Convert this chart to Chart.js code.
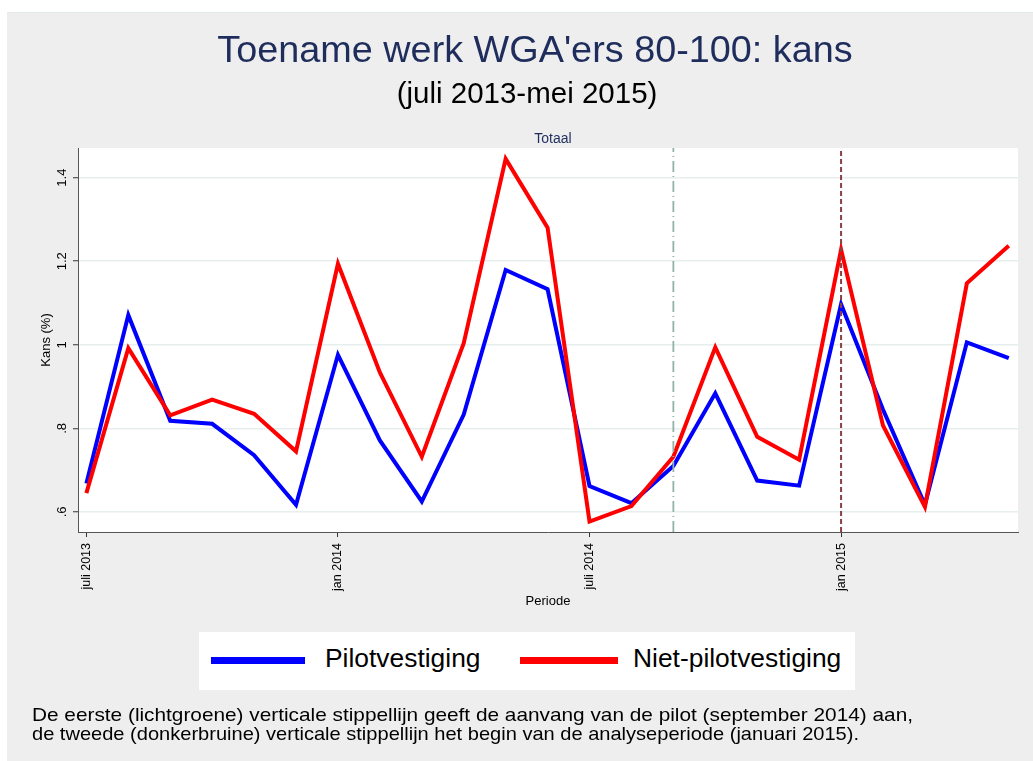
<!DOCTYPE html>
<html>
<head>
<meta charset="utf-8">
<script src="https://cdn.jsdelivr.net/npm/chart.js@4.4.1/dist/chart.umd.min.js"></script>
<style>
  body { margin: 0; background: #fff; font-family: Arial, "Liberation Sans", sans-serif; }
  #page { position: relative; width: 1033px; height: 761px; overflow: hidden; }
  #panel { position: absolute; left: 7px; top: 12px; width: 1026px; height: 749px; background: #eeeeee; border-top: 1px solid #e3eaec; }
  #chart { position: absolute; left: 0; top: 0; }
  .txt { position: absolute; white-space: nowrap; line-height: 1; }
  .center { transform: translateX(-50%); }
  .note { transform-origin: 0 0; }
  #legend { position: absolute; left: 199px; top: 632px; width: 656px; height: 58px; background: #fff; }
  .swatch { position: absolute; height: 7px; top: 25px; }
  .lab { position: absolute; top: 13px; font-size: 26.4px; line-height: 1; color: #000; white-space: nowrap; }
</style>
</head>
<body>
<div id="page">
  <div id="panel"></div>
  <canvas id="chart" width="1033" height="761"></canvas>
  <div class="txt center" style="left:535px; top:31px; font-size:37.8px; color:#1f2d5c;">Toename werk WGA'ers 80-100: kans</div>
  <div class="txt center" style="left:527px; top:78px; font-size:29.5px; color:#000;">(juli 2013-mei 2015)</div>
  <div class="txt center" style="left:553px; top:131px; font-size:14px; color:#1f2d5c;">Totaal</div>
  <div id="legend"></div>
  <div class="txt note" data-w="881" style="left:32px; top:706px; font-size:18.5px; color:#000;">De eerste (lichtgroene) verticale stippellijn geeft de aanvang van de pilot (september 2014) aan,</div>
  <div class="txt note" data-w="827" style="left:32px; top:725px; font-size:18.5px; color:#000;">de tweede (donkerbruine) verticale stippellijn het begin van de analyseperiode (januari 2015).</div>
</div>
<script>
// maanden juli 2013 - mei 2015
const months = ['juli 2013', 'aug 2013', 'sep 2013', 'okt 2013', 'nov 2013', 'dec 2013',
  'jan 2014', 'feb 2014', 'mrt 2014', 'apr 2014', 'mei 2014', 'jun 2014',
  'juli 2014', 'aug 2014', 'sep 2014', 'okt 2014', 'nov 2014', 'dec 2014',
  'jan 2015', 'feb 2015', 'mrt 2015', 'apr 2015', 'mei 2015'];

const pilot = [0.668, 1.071, 0.818, 0.811, 0.736, 0.617, 0.976, 0.771, 0.625, 0.833, 1.179, 1.133,
  0.662, 0.621, 0.710, 0.884, 0.675, 0.663, 1.097, 0.845, 0.617, 1.006, 0.968];
const nietPilot = [0.645, 0.992, 0.831, 0.869, 0.835, 0.745, 1.194, 0.934, 0.732, 1.004, 1.445, 1.280,
  0.577, 0.614, 0.732, 0.994, 0.780, 0.725, 1.228, 0.807, 0.612, 1.147, 1.237];

const seriesNames = ['Pilotvestiging', 'Niet-pilotvestiging'];
const seriesColors = ['#0000ff', '#ff0000'];

const xTickPos = [0, 6, 12, 18];
const xTickLabels = ['juli 2013', 'jan 2014', 'juli 2014', 'jan 2015'];
const yTickVals = [0.6, 0.8, 1.0, 1.2, 1.4];
const yTickLabels = ['.6', '.8', '1', '1.2', '1.4'];

// verticale stippellijnen: start pilot (sep 2014) en analyseperiode (jan 2015)
const pilotStart = months.indexOf('sep 2014');
const analyseStart = months.indexOf('jan 2015');

const yMin = 0.552, yMax = 1.471;
const fam = 'Arial, "Liberation Sans", sans-serif';

const toPoints = arr => arr.map((v, i) => ({ x: i, y: v }));
const vline = x => [{ x: x, y: yMin }, { x: x, y: yMax }];

// voetnoot iets breder trekken, zoals in het origineel
document.querySelectorAll('.note').forEach(el => {
  const w = el.getBoundingClientRect().width;
  el.style.transform = 'scaleX(' + (parseFloat(el.dataset.w) / w) + ')';
});

// legenda
const legend = document.getElementById('legend');
const legPos = [[12, 94, 126], [321, 98, 434]];
seriesNames.forEach((name, i) => {
  const sw = document.createElement('div');
  sw.className = 'swatch';
  sw.style.left = legPos[i][0] + 'px';
  sw.style.width = legPos[i][1] + 'px';
  sw.style.background = seriesColors[i];
  legend.appendChild(sw);
  const lab = document.createElement('div');
  lab.className = 'lab';
  lab.style.left = legPos[i][2] + 'px';
  lab.textContent = name;
  legend.appendChild(lab);
});

const plotBg = {
  id: 'plotBg',
  beforeDraw(chart) {
    const { ctx, chartArea: a } = chart;
    ctx.save();
    ctx.fillStyle = '#ffffff';
    ctx.fillRect(a.left, a.top, a.right - a.left, a.bottom - a.top);
    ctx.restore();
  }
};

new Chart(document.getElementById('chart'), {
  type: 'line',
  data: {
    datasets: [
      { label: seriesNames[0], data: toPoints(pilot), borderColor: seriesColors[0], borderWidth: 4, order: 3 },
      { label: seriesNames[1], data: toPoints(nietPilot), borderColor: seriesColors[1], borderWidth: 4, order: 2 },
      { data: vline(pilotStart), borderColor: '#93b3a8', borderWidth: 1.8, borderDash: [11, 4, 1, 4], order: 1 },
      { data: vline(analyseStart), borderColor: '#8c3f42', borderWidth: 2, borderDash: [5, 3], order: 1 }
    ]
  },
  options: {
    responsive: false,
    animation: false,
    events: [],
    layout: { padding: { left: 30, right: 15, top: 148, bottom: 149 } },
    elements: { point: { radius: 0 }, line: { tension: 0, borderCapStyle: 'butt', borderJoinStyle: 'miter' } },
    plugins: { legend: { display: false }, tooltip: { enabled: false } },
    scales: {
      x: {
        type: 'linear',
        min: -0.2,
        max: 22.22,
        afterBuildTicks: s => { s.ticks = xTickPos.map(v => ({ value: v })); },
        afterFit: s => { s.height = 80; },
        grid: { drawOnChartArea: false, drawTicks: true, tickLength: 5, tickColor: '#333', tickWidth: 1 },
        border: { color: '#555', width: 1 },
        ticks: {
          minRotation: 90, maxRotation: 90, padding: 6, color: '#000',
          font: { family: fam, size: 12.5 },
          callback: (v, i) => xTickLabels[i]
        },
        title: { display: true, text: 'Periode', color: '#000', font: { family: fam, size: 13 }, padding: { top: 0, bottom: 3 } }
      },
      y: {
        min: yMin,
        max: yMax,
        afterBuildTicks: s => { s.ticks = yTickVals.map(v => ({ value: v })); },
        afterFit: s => { s.width = 48; },
        grid: { color: '#e6eeee', lineWidth: 1.5, drawTicks: true, tickLength: 5, tickColor: '#333', tickWidth: 1 },
        border: { color: '#555', width: 1 },
        ticks: {
          minRotation: 90, maxRotation: 90, crossAlign: 'center', padding: 2, color: '#000',
          font: { family: fam, size: 13 },
          callback: (v, i) => yTickLabels[i]
        },
        title: { display: true, text: 'Kans (%)', color: '#000', font: { family: fam, size: 13 }, padding: { top: 9, bottom: 0 } }
      }
    }
  },
  plugins: [plotBg]
});
</script>
</body>
</html>
